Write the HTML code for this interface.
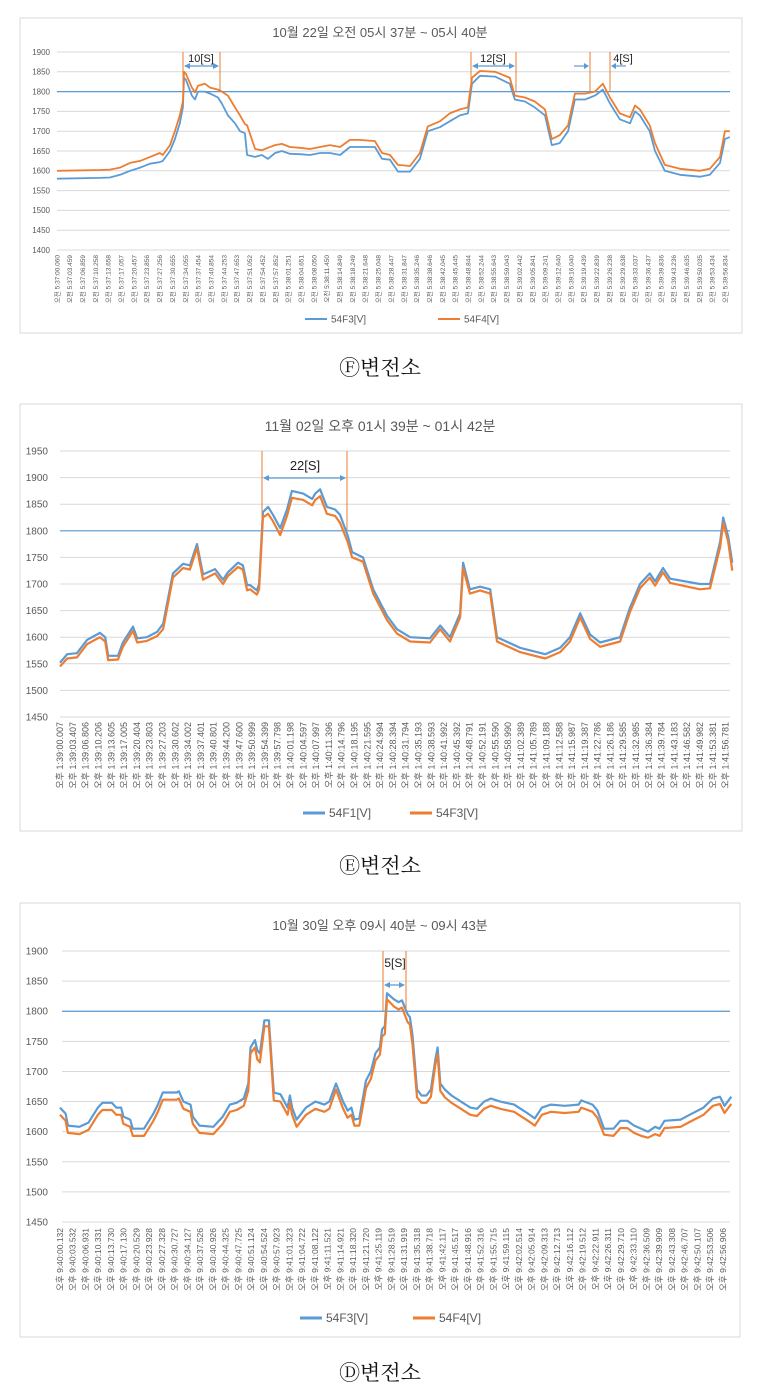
<!DOCTYPE html>
<html><head><meta charset="utf-8"><style>
body{margin:0;background:#fff;}
svg{display:block;font-family:"Liberation Sans","Noto Sans CJK KR",sans-serif;}
</style></head><body>
<svg id="s" width="765" height="1397" viewBox="0 0 765 1397"></svg>
<script>
// ---- Chart F data ----
const fTimes=[0,11.4,14,16.7,19.3,22,24.6,27.2,28,29.9,31.2,32.5,33.3,33.6,34.1,35.7,36.5,37.3,39.1,40.5,42.6,43.6,45.2,47.1,48.4,49.7,50.3,52.4,54.2,55.8,57.7,59.5,61.6,64.3,66.9,69.6,72.2,74.9,77.5,80.1,84.1,86,88.1,90.2,93.4,96,98.1,101.3,103.9,106.6,108.7,109.8,111.9,115.9,119.8,121.1,123.8,126.4,129.1,130.9,133,135.2,137,139.7,142.3,144.4,146.3,148.9,151.6,152.9,154.2,156.8,158.2,160.8,164.8,170.1,172.7,175.4,176.7,178];
const fBlue=[1580,1582,1583,1590,1600,1608,1618,1622,1625,1650,1680,1720,1760,1835,1830,1790,1780,1800,1800,1795,1785,1770,1740,1720,1700,1695,1640,1635,1640,1630,1645,1650,1643,1642,1640,1645,1645,1640,1660,1660,1660,1630,1628,1598,1598,1630,1700,1710,1725,1740,1745,1820,1840,1838,1820,1780,1775,1760,1740,1665,1670,1700,1780,1780,1790,1805,1770,1730,1720,1750,1740,1700,1650,1600,1590,1585,1590,1620,1680,1685];
const fOrange=[1600,1602,1603,1608,1620,1625,1635,1645,1640,1665,1700,1740,1775,1850,1845,1810,1798,1815,1820,1810,1805,1800,1790,1760,1740,1718,1715,1655,1652,1658,1665,1668,1660,1658,1655,1660,1665,1660,1678,1678,1675,1645,1640,1615,1612,1645,1712,1725,1745,1755,1760,1835,1852,1850,1835,1790,1785,1775,1755,1680,1690,1715,1795,1795,1800,1820,1785,1745,1735,1765,1755,1715,1670,1615,1605,1600,1605,1635,1700,1700];
const fYTicks=[1400,1450,1500,1550,1600,1650,1700,1750,1800,1850,1900];
// ---- Chart E data ----
const eTimes=[0,1.9,4.5,7.2,10.6,12,12.8,15.4,16.7,19.4,20.5,23.1,25.8,27.4,30,32.7,34.5,36.4,38,41.2,43.3,44.6,47.3,48.6,49.7,50.5,52.3,52.9,53.9,55.3,56.6,58.5,60.3,61.6,64.6,67,67.8,69.1,70.9,73.1,74.4,76.5,77.6,80.5,83.2,86.9,89.5,93,98.3,101,103.6,106.3,107.1,108.9,111.6,114.3,116.1,122.2,128.9,132.9,135.5,138.2,140.8,143.5,148.8,151.4,154.1,156.7,158.1,160.2,162.1,170,172.7,175.4,176.2,177.5,178.6];
const eBlue=[1552,1568,1570,1595,1608,1600,1565,1565,1590,1620,1598,1600,1610,1625,1720,1738,1735,1775,1718,1728,1708,1722,1740,1735,1698,1698,1688,1700,1835,1845,1830,1805,1840,1875,1870,1860,1870,1878,1845,1840,1830,1790,1760,1750,1690,1640,1615,1600,1598,1622,1600,1645,1740,1690,1695,1690,1600,1580,1568,1580,1600,1645,1605,1590,1600,1655,1700,1720,1705,1730,1710,1700,1700,1780,1825,1790,1740];
const eOrange=[1545,1560,1562,1587,1600,1592,1557,1558,1582,1612,1590,1593,1602,1615,1712,1730,1727,1768,1708,1720,1700,1715,1732,1727,1688,1690,1680,1690,1825,1832,1818,1792,1828,1862,1858,1848,1858,1865,1832,1828,1815,1778,1750,1742,1682,1632,1607,1592,1590,1615,1592,1637,1730,1682,1688,1682,1592,1572,1560,1572,1592,1637,1597,1582,1592,1647,1692,1712,1697,1722,1702,1690,1692,1770,1815,1780,1725];
const eYTicks=[1450,1500,1550,1600,1650,1700,1750,1800,1850,1900,1950];
// ---- Chart D data ----
const dTimes=[0,1.5,2.1,5.2,7.6,10.1,11.3,13.8,15,16.3,16.9,18.7,19.4,22.4,24.9,26.1,27.4,31.1,31.7,32.9,34.8,35.4,37.2,40.9,43.4,45.3,47.1,49,50.2,50.8,52,52.6,53.3,54.5,55.7,57,58.8,60,60.7,61.3,61.9,63.1,65.6,68.1,70.5,71.8,73.6,75.5,76.7,77.7,78.5,79.8,81.6,82.9,84.1,85.3,85.9,86.6,87.2,89,90.3,91.2,92.7,93.3,94,95.2,96.4,97.7,98.9,100.1,100.7,101.4,102.6,104.4,106.9,109.4,111.2,113.1,114.9,117.4,121.1,124.8,126.6,128.5,130.9,134.6,138.3,139,142,143.3,145.1,147.6,149.4,151.3,153.1,155,156.8,158.7,159.9,161.2,165.5,167.9,171.6,174.1,176,177.2,179];
const dBlue=[1640,1630,1610,1608,1615,1640,1648,1648,1640,1640,1625,1620,1605,1605,1630,1645,1665,1665,1667,1650,1645,1625,1610,1608,1625,1645,1648,1655,1680,1740,1752,1735,1730,1785,1785,1665,1662,1648,1640,1660,1640,1620,1640,1650,1645,1650,1680,1650,1635,1640,1620,1622,1685,1700,1730,1740,1770,1775,1830,1820,1815,1818,1795,1790,1760,1670,1660,1660,1670,1720,1740,1680,1670,1660,1650,1640,1638,1650,1655,1650,1645,1630,1622,1640,1645,1643,1645,1652,1645,1635,1605,1605,1618,1618,1610,1605,1600,1608,1605,1618,1620,1628,1640,1655,1658,1643,1658];
const dOrange=[1628,1618,1598,1596,1603,1628,1636,1636,1628,1628,1613,1608,1593,1593,1618,1633,1653,1653,1655,1638,1633,1613,1598,1596,1613,1633,1636,1643,1668,1730,1740,1720,1715,1775,1775,1652,1650,1636,1628,1648,1628,1608,1628,1638,1633,1638,1670,1638,1623,1628,1610,1610,1672,1688,1718,1728,1758,1762,1820,1808,1803,1806,1782,1778,1745,1657,1648,1648,1658,1712,1728,1668,1657,1648,1638,1628,1626,1638,1643,1638,1633,1618,1610,1628,1633,1631,1633,1640,1633,1623,1595,1593,1606,1606,1598,1593,1590,1596,1593,1606,1608,1616,1628,1643,1646,1631,1646];
const dYTicks=[1450,1500,1550,1600,1650,1700,1750,1800,1850,1900];

const NS='http://www.w3.org/2000/svg';
const S=document.getElementById('s');
function mk(tag,attrs,parent,text){const e=document.createElementNS(NS,tag);for(const k in attrs)e.setAttribute(k,attrs[k]);if(text!==undefined)e.textContent=text;(parent||S).appendChild(e);return e;}
function fmt(sec,h,m0,pre){const tot=m0*60+sec;const mm=Math.floor(tot/60);const ss=tot-mm*60;const s=ss.toFixed(3).padStart(6,'0');return pre+' '+h+':'+String(mm).padStart(2,'0')+':'+s;}

function chart(c){
  const g=mk('g',{});
  
  
  const fr=mk('rect',{x:c.fx,y:c.fy,width:c.fw,height:c.fh,fill:'#fff',stroke:'#d9d9d9','stroke-width':1},g);
  
  
  const yv=v=>c.yTop+(c.vMax-v)/(c.vMax-c.vMin)*(c.yBot-c.yTop);
  const xv=t=>c.x0+t*c.pxs;
  const tt=mk('text',{x:c.tx,y:c.ty,'text-anchor':'middle','font-size':c.tfs,fill:'#595959'},g,c.title);
  
  
  c.yTicks.forEach(v=>{
    const l=mk('line',{x1:c.gl,x2:c.gr,y1:yv(v),y2:yv(v),stroke:'#d9d9d9','stroke-width':1},g);
    
    
    const t=mk('text',{x:c.ylx,y:yv(v)+c.yfs*0.35,'text-anchor':'end','font-size':c.yfs,fill:'#595959'},g,String(v));
    
    
  });
  const ref=mk('line',{x1:c.gl,x2:c.gr,y1:yv(1800),y2:yv(1800),stroke:'#5b9bd5','stroke-width':1.2},g);
  
  
  for(let i=0;i<53;i++){
    const x=xv(i*3.4)+c.lfs*0.35;
    const t=mk('text',{transform:`translate(${x},${c.ly}) rotate(-90)`,'text-anchor':'end','font-size':c.lfs,fill:'#595959'},g,fmt(i*3.3995+c.s0,c.h,c.m0,c.pre));
    
    
  }
  c.series.forEach(s=>{
    const d=c.times.map((t,i)=>(i?'L':'M')+xv(t).toFixed(1)+' '+yv(s.vals[i]).toFixed(1)).join(' ');
    const p=mk('path',{d:d,fill:'none',stroke:s.col,'stroke-width':c.lw,'stroke-linejoin':'round'},g);
    
    
  });
  c.marks.forEach(m=>{
    [m.a,m.b].forEach(x=>{
      const l=mk('line',{x1:x,x2:x,y1:c.yTop,y2:yv(1800),stroke:'#ed7d31','stroke-width':1},g);
      
      
    });
    const ay=m.ay;
    if(m.inward){
      mk('line',{x1:m.a-16,x2:m.a-2,y1:ay,y2:ay,stroke:'#5b9bd5','stroke-width':1.2},g);
      mk('path',{d:`M${m.a-1} ${ay} l-5 -3 v6z`,fill:'#5b9bd5'},g);
      mk('line',{x1:m.b+2,x2:m.b+16,y1:ay,y2:ay,stroke:'#5b9bd5','stroke-width':1.2},g);
      mk('path',{d:`M${m.b+1} ${ay} l5 -3 v6z`,fill:'#5b9bd5'},g);
    }else{
      mk('line',{x1:m.a+2,x2:m.b-2,y1:ay,y2:ay,stroke:'#5b9bd5','stroke-width':1.2},g);
      mk('path',{d:`M${m.a+1} ${ay} l6 -3 v6z`,fill:'#5b9bd5'},g);
      mk('path',{d:`M${m.b-1} ${ay} l-6 -3 v6z`,fill:'#5b9bd5'},g);
    }
    const t=mk('text',{x:m.tx,y:m.ty,'text-anchor':'middle','font-size':m.fs,fill:'#222'},g,m.label);
    
    
  });
  c.legend.forEach(L=>{
    const gl=mk('g',{},g);
    
    
    mk('line',{x1:L.x,x2:L.x+22,y1:c.legY,y2:c.legY,stroke:L.col,'stroke-width':c.legW},gl);
    mk('text',{x:L.x+26,y:c.legY+c.legFs*0.35,'font-size':c.legFs,fill:'#595959'},gl,L.label);
  });
  const cap=mk('text',{x:380,y:c.capY,'text-anchor':'middle','font-size':21,fill:'#111','font-family':'"Liberation Serif","Noto Serif CJK SC",serif'},S,c.caption);
  
  
}
const B='#5b9bd5',O='#ed7d31';
chart({name:'chart-f-substation',fx:20,fy:18,fw:722,fh:315,title:'10월 22일 오전 05시 37분 ~ 05시 40분',tx:380,ty:37,tfs:13,
 yTop:52,yBot:250,vMax:1900,vMin:1400,yTicks:fYTicks,ylx:50,yfs:8,gl:57,gr:730,x0:57,pxs:3.78,ly:255,lfs:6.5,s0:0.06,h:5,m0:37,pre:'오전',
 times:fTimes,series:[{key:'54f3',col:B,vals:fBlue},{key:'54f4',col:O,vals:fOrange}],lw:1.8,
 marks:[{a:183,b:220,ay:66,tx:201,ty:62,fs:11,label:'10[S]'},{a:471,b:516,ay:66,tx:493,ty:62,fs:11,label:'12[S]'},{a:590,b:610,ay:66,tx:623,ty:62,fs:11,label:'4[S]',inward:true}],
 legY:319,legW:2,legFs:10,legend:[{x:305,col:B,label:'54F3[V]'},{x:438,col:O,label:'54F4[V]'}],capY:375,caption:'Ⓕ변전소'});
chart({name:'chart-e-substation',fx:20,fy:404,fw:722,fh:427,title:'11월 02일 오후 01시 39분 ~ 01시 42분',tx:380,ty:431,tfs:14,
 yTop:451,yBot:717,vMax:1950,vMin:1450,yTicks:eYTicks,ylx:48,yfs:10,gl:60,gr:730,x0:60,pxs:3.764,ly:722,lfs:9,s0:0.007,h:1,m0:39,pre:'오후',
 times:eTimes,series:[{key:'54f1',col:B,vals:eBlue},{key:'54f3',col:O,vals:eOrange}],lw:2.2,
 marks:[{a:262,b:347,ay:478,tx:305,ty:470,fs:13,label:'22[S]'}],
 legY:813,legW:3,legFs:12,legend:[{x:303,col:B,label:'54F1[V]'},{x:410,col:O,label:'54F3[V]'}],capY:873,caption:'Ⓔ변전소'});
chart({name:'chart-d-substation',fx:20,fy:903,fw:720,fh:434,title:'10월 30일 오후 09시 40분 ~ 09시 43분',tx:380,ty:930,tfs:13,
 yTop:951,yBot:1222,vMax:1900,vMin:1450,yTicks:dYTicks,ylx:48,yfs:10,gl:62,gr:730,x0:60,pxs:3.75,ly:1228,lfs:8.5,s0:0.132,h:9,m0:40,pre:'오후',
 times:dTimes,series:[{key:'54f3',col:B,vals:dBlue},{key:'54f4',col:O,vals:dOrange}],lw:2.2,
 marks:[{a:383,b:406,ay:985,tx:395,ty:967,fs:12,label:'5[S]'}],
 legY:1318,legW:3,legFs:12,legend:[{x:300,col:B,label:'54F3[V]'},{x:413,col:O,label:'54F4[V]'}],capY:1380,caption:'Ⓓ변전소'});
</script>
</body></html>
